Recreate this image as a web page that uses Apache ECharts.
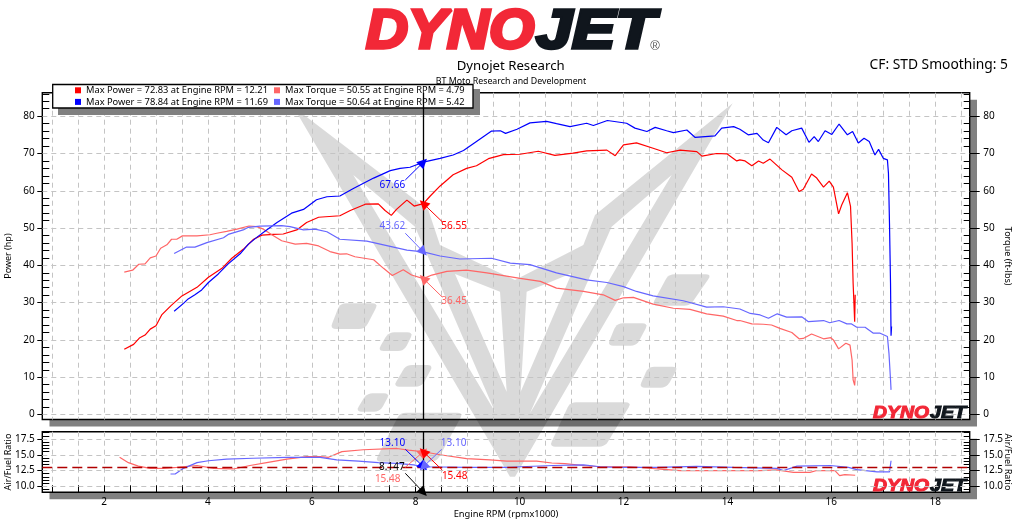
<!DOCTYPE html>
<html><head><meta charset="utf-8">
<style>html,body{margin:0;padding:0;background:#fff}#c{width:1023px;height:531px}</style>
<script src="https://cdn.jsdelivr.net/npm/echarts@6/dist/echarts.min.js"></script>
</head><body><div id="c"></div>
<script>
// ---------- data ----------
const rpmPowerRed=[2.39,2.57,2.68,2.79,2.89,3.00,3.11,3.29,3.50,3.79,4.01,4.27,4.46,4.68,4.88,5.04,5.26,5.45,5.71,5.90,6.13,6.54,6.74,7.03,7.28,7.41,7.53,7.63,7.83,7.97,8.147,8.28,8.47,8.72,8.98,9.17,9.40,9.69,10.01,10.36,10.68,11.03,11.29,11.68,11.84,12.00,12.25,12.57,12.83,13.09,13.41,13.51,13.79,13.99,14.18,14.24,14.34,14.47,14.60,14.69,14.82,15.05,15.24,15.38,15.46,15.62,15.72,15.85,15.96,16.04,16.14,16.20,16.31,16.37,16.40,16.42,16.45,16.46];
const powerRed=[17.5,18.8,20.5,21.3,22.9,23.8,26.7,29.2,31.8,34.1,36.8,39.2,41.9,44.3,47.0,48.1,48.3,48.4,49.5,51.5,52.9,53.3,54.7,56.4,56.5,54.7,53.4,55.0,57.5,55.9,56.55,58.6,61.3,64.3,66.0,66.7,68.6,69.7,69.8,70.6,69.5,70.1,70.7,70.9,69.4,72.3,72.83,71.4,70.2,70.9,70.5,69.3,70.0,69.9,68.0,68.3,68.0,66.7,68.0,67.4,68.5,65.6,63.6,59.8,60.4,64.5,63.4,61.0,62.6,61.0,53.8,56.2,59.5,55.8,45.9,35.2,24.9,32.1];
const rpmPowerBlue=[3.35,3.53,3.62,3.75,3.88,4.01,4.20,4.39,4.62,4.78,4.94,5.13,5.33,5.61,5.84,6.09,6.29,6.54,6.80,7.19,7.51,7.70,7.89,8.147,8.47,8.72,8.92,9.17,9.46,9.63,9.73,9.95,10.20,10.52,10.71,10.97,11.29,11.42,11.69,12.06,12.22,12.45,12.61,12.83,12.96,13.22,13.38,13.76,13.89,14.12,14.24,14.40,14.57,14.69,14.79,14.95,15.13,15.24,15.43,15.57,15.67,15.75,15.88,16.01,16.15,16.31,16.41,16.52,16.63,16.73,16.84,16.91,17.00,17.08,17.10,17.12,17.14,17.15,17.16];
const powerBlue=[27.7,29.8,31.0,32.1,33.4,35.4,37.7,40.4,43.1,45.7,47.5,49.5,51.5,54.0,55.0,57.6,58.4,58.6,60.6,63.4,65.4,66.0,66.3,67.66,68.7,69.6,70.8,73.2,76.0,76.1,75.4,76.5,78.2,78.6,78.0,77.2,78.1,77.5,78.84,78.1,76.8,75.9,77.0,76.1,75.6,76.3,74.3,74.7,76.8,77.2,76.5,75.0,75.4,73.6,72.9,77.0,75.0,76.1,76.8,73.0,74.5,73.2,76.1,75.1,77.9,75.0,75.9,72.8,74.1,73.2,69.6,71.1,68.7,68.3,64.7,51.3,35.2,21.1,23.6];
const rpmTorqueRed=[2.39,2.55,2.67,2.79,2.89,3.00,3.09,3.21,3.30,3.40,3.51,3.79,4.04,4.17,4.36,4.56,4.79,4.94,5.07,5.23,5.42,5.68,5.90,6.13,6.35,6.54,6.67,6.83,7.19,7.38,7.55,7.76,7.92,8.147,8.31,8.60,8.98,9.37,10.01,10.40,10.71,11.23,11.61,11.84,12.00,12.19,12.57,12.96,13.28,13.60,13.92,14.18,14.24,14.47,14.69,14.85,15.01,15.24,15.38,15.46,15.62,15.85,15.99,16.04,16.14,16.28,16.36,16.40,16.42,16.45,16.46];
const torqueRed=[38.2,38.7,40.3,40.4,42.0,42.5,44.6,45.5,47.0,47.0,47.9,47.9,48.2,48.6,49.1,49.7,50.55,50.4,49.7,48.2,46.6,45.7,45.9,45.2,43.7,43.0,43.1,42.3,41.5,39.2,37.3,38.8,37.4,36.45,37.4,38.4,38.7,38.0,36.5,35.7,33.9,33.0,32.1,30.6,31.3,31.4,29.6,28.5,28.2,27.0,26.4,25.2,25.2,24.3,24.2,24.0,23.1,22.0,20.3,20.4,21.6,20.3,20.6,20.0,17.6,19.1,18.6,14.6,9.3,7.8,10.1];
const rpmTorqueBlue=[3.35,3.59,3.75,3.98,4.30,4.39,4.68,4.78,5.00,5.42,5.58,5.84,6.06,6.29,6.54,7.06,7.38,7.83,8.147,8.47,8.85,9.46,9.82,10.20,10.71,11.29,11.68,12.00,12.25,12.57,13.15,13.60,13.92,14.24,14.44,14.63,14.79,14.96,15.14,15.43,15.56,15.85,15.97,16.15,16.30,16.39,16.49,16.65,16.81,16.94,17.08,17.11,17.14,17.15];
const torqueBlue=[43.2,44.9,44.9,46.1,47.4,48.3,49.5,50.2,50.5,50.64,50.4,49.5,49.7,49.0,47.0,46.5,45.5,44.1,43.62,42.5,41.7,41.9,40.6,40.2,38.0,36.1,35.4,34.3,33.0,31.8,30.5,28.8,28.9,28.3,27.1,26.7,25.8,27.0,26.1,26.2,24.9,25.2,24.6,25.2,24.3,24.3,23.4,23.4,21.8,21.8,20.9,16.4,9.3,6.6];
const rpmAfrRed=[2.30,2.47,2.66,2.89,3.14,3.40,3.79,4.11,4.49,4.81,5.13,5.52,5.90,6.16,6.32,6.58,6.99,7.64,7.86,8.147,8.47,8.98,9.43,9.75,10.01,10.33,10.62,10.87,11.23,11.55,12.13,12.45,12.77,13.09,13.99,14.63,14.95,15.27,15.59,15.72,16.07,16.16,16.26,16.46];
const afrRed=[14.6,13.75,13.2,12.85,12.85,13.0,13.3,12.85,12.75,13.3,13.75,14.3,14.7,14.7,14.6,15.5,15.8,16.0,15.75,15.48,15.0,14.4,14.2,14.0,14.0,14.0,13.7,13.6,13.3,13.1,13.1,12.9,12.7,12.5,12.5,12.5,12.6,12.2,12.2,12.5,12.5,11.7,11.85,11.75];
const rpmAfrBlue=[3.28,3.37,3.53,3.79,4.01,4.36,4.87,5.52,6.16,6.48,6.90,7.28,7.64,7.96,8.147,8.98,9.82,10.01,10.65,11.23,11.55,11.87,12.64,12.67,13.41,13.44,14.12,14.95,15.08,15.21,15.34,15.98,16.33,16.49,16.88,17.12,17.15];
const afrBlue=[11.95,11.95,12.85,13.75,14.05,14.3,14.45,14.6,14.6,14.2,14.0,13.75,13.65,13.4,13.1,13.0,13.0,13.1,13.3,13.4,13.1,13.0,13.0,13.2,13.15,13.0,13.0,12.85,12.5,12.85,13.2,13.3,13.0,12.65,12.3,12.3,14.05];
const legendPowerRed='Max Power = 72.83 at Engine RPM = 12.21';
const legendPowerBlue='Max Power = 78.84 at Engine RPM = 11.69';
const legendTorqueRed='Max Torque = 50.55 at Engine RPM = 4.79';
const legendTorqueBlue='Max Torque = 50.64 at Engine RPM = 5.42';
const cursorRpm=8.147;
const afrTarget=13.0;
const rpmLabels=[2,4,6,8,10,12,14,16,18];
const powerLabels=[0,10,20,30,40,50,60,70,80];
const afrLabels=[10,12.5,15,17.5];

// ---------- helpers ----------
const zip=(a,b)=>a.map((v,i)=>[v,b[i]]);
const RED='#ff0000',BLUE='#0000ff',LRED='#ff6666',LBLUE='#6666ff';
const FONT='"Noto Sans"';
const rpmTicks=[];for(let v=1;v<=18.5;v+=0.5)rpmTicks.push(v);
const powerMinor=[];for(let v=2;v<=86;v+=2)if(v%10)powerMinor.push(v);
const afrMinor=[];for(let v=9.5;v<=18.5;v+=0.5)if(v%2.5)afrMinor.push(v);
const MAIN={l:42.3,t:92.7,w:927.4,h:326.8};
const LOW={l:42.3,t:431.7,w:927.4,h:60.6};
const GRID={type:[5,4],color:'#c4c4c4',width:1};
const X_MIN=0.812,X_MAX=18.664;
const mainRange=[-1.34,86.3], lowRange=[9.05,18.66];

function xAxis(gridIndex,low){
  return {type:'value',gridIndex,min:X_MIN,max:X_MAX,splitNumber:9,
    axisLine:{show:false},
    axisTick:{show:low,inside:true,length:7,customValues:rpmTicks,lineStyle:{color:'#000',width:1}},
    axisLabel:{show:low,customValues:rpmLabels,margin:5,fontSize:10,color:'#000',fontFamily:FONT},
    splitLine:{show:true,lineStyle:GRID},
    name:low?'Engine RPM (rpmx1000)':'',nameLocation:'middle',nameGap:18,nameMoveOverlap:false,
    nameTextStyle:{fontSize:9.3,color:'#000',fontFamily:FONT}};
}
function yAxisMajor(gridIndex,pos,range,labels,name,split){
  return {type:'value',gridIndex,position:pos,min:range[0],max:range[1],splitNumber:9,
    axisLine:{show:false},
    axisTick:{show:true,length:pos==='left'?5:10,customValues:labels,lineStyle:{color:'#000',width:1}},
    axisLabel:{show:true,customValues:labels,margin:pos==='left'?7.5:13.5,fontSize:10,color:'#000',fontFamily:FONT,
      formatter:v=>labels===afrLabels?v.toFixed(1):String(v)},
    splitLine:{show:split,lineStyle:GRID},
    name,nameLocation:'middle',nameGap:pos==='left'?29:33,nameRotate:pos==='left'?90:-90,nameMoveOverlap:false,
    nameTextStyle:{fontSize:9,color:'#000',fontFamily:FONT}};
}
function yAxisMinor(gridIndex,pos,range,ticks){
  return {type:'value',gridIndex,position:pos,min:range[0],max:range[1],splitNumber:9,
    axisLine:{show:false},
    axisTick:{show:true,inside:true,length:pos==='left'?7:6,customValues:ticks,lineStyle:{color:'#000',width:1}},
    axisLabel:{show:false},splitLine:{show:false}};
}
function lineSeries(name,xi,yi,data,color,extra){
  return Object.assign({type:'line',name,xAxisIndex:xi,yAxisIndex:yi,data,showSymbol:false,symbol:'none',
    lineStyle:{color,width:1.2},itemStyle:{color},z:2,silent:true},extra||{});
}
function arrow(from,to,color){
  return [{coord:from,lineStyle:{color,width:1,type:'solid'},symbol:'none'},{coord:to,symbol:'triangle',symbolSize:10}];
}
function plain(a,b,style){
  return [{coord:a,lineStyle:style,symbol:'none'},{coord:b,symbol:'none'}];
}
function tag(coord,text,color){
  return {coord,value:text,symbol:'circle',symbolSize:0,itemStyle:{color:'transparent'},
    label:{show:true,position:'inside',formatter:text,color,fontSize:10,fontFamily:FONT}};
}
function annots(lines,tags){
  return {
    markLine:{silent:true,symbol:['none','none'],animation:false,label:{show:false},data:lines},
    markPoint:{silent:true,animation:false,data:tags}
  };
}
const CUR={color:'#000',width:1.3,type:'solid'};
const afrGrid=afrLabels.map(v=>plain([X_MIN,v],[X_MAX,v],GRID));
const series=[
  lineSeries(legendPowerRed,0,0,zip(rpmPowerRed,powerRed),RED,annots(
    [plain([cursorRpm,mainRange[0]],[cursorRpm,mainRange[1]],CUR),arrow([8.51,51.7],[cursorRpm,56.55],RED)],[tag([8.74,50.6],'56.55',RED)])),
  lineSeries(legendTorqueRed,0,1,zip(rpmTorqueRed,torqueRed),LRED,annots(
    [arrow([8.51,31.5],[cursorRpm,36.45],LRED)],[tag([8.74,30.5],'36.45',LRED)])),
  lineSeries(legendPowerBlue,0,0,zip(rpmPowerBlue,powerBlue),BLUE,annots(
    [arrow([7.80,62.9],[cursorRpm,67.66],BLUE)],[tag([7.55,61.4],'67.66',BLUE)])),
  lineSeries(legendTorqueBlue,0,1,zip(rpmTorqueBlue,torqueBlue),LBLUE,annots(
    [arrow([7.80,48.6],[cursorRpm,43.62],LBLUE)],[tag([7.55,50.6],'43.62',LBLUE)])),
  lineSeries('Air/Fuel Ratio 1',1,4,zip(rpmAfrRed,afrRed),LRED,annots(
    afrGrid.concat([plain([X_MIN,afrTarget],[X_MAX,afrTarget],{color:'#b00000',width:1.4,type:[10,5]}),
      plain([cursorRpm,lowRange[0]],[cursorRpm,lowRange[1]],CUR),
      arrow([7.80,13.02],[cursorRpm,15.48],LRED),arrow([8.51,12.59],[cursorRpm,15.48],RED)]),
    [tag([7.46,11.16],'15.48',LRED),tag([8.75,11.68],'15.48',RED),tag([7.54,13.02],'8.147','#000')])),
  lineSeries('Air/Fuel Ratio 2',1,4,zip(rpmAfrBlue,afrBlue),LBLUE,annots(
    [arrow([7.80,15.87],[cursorRpm,13.1],BLUE),arrow([8.50,15.87],[cursorRpm,13.1],LBLUE),arrow([7.80,12.06],[cursorRpm,9.05],'#000')],
    [tag([7.55,16.92],'13.10',BLUE),tag([8.73,16.92],'13.10',LBLUE)]))
];

// ---------- watermark and decoration ----------
const wm=(x,y)=>[280+x/3,95+y/3];
const WM='rgba(0,0,0,0.145)';
function rounded(pts,r){
  const out=[];
  pts.forEach((p,i)=>{
    const a=pts[(i+pts.length-1)%pts.length],b=pts[(i+1)%pts.length];
    const la=Math.hypot(a[0]-p[0],a[1]-p[1]),lb=Math.hypot(b[0]-p[0],b[1]-p[1]);
    const ra=Math.min(r,la/2),rb=Math.min(r,lb/2);
    const s=[p[0]+(a[0]-p[0])*ra/la,p[1]+(a[1]-p[1])*ra/la],e=[p[0]+(b[0]-p[0])*rb/lb,p[1]+(b[1]-p[1])*rb/lb];
    for(let t=0;t<=1.001;t+=0.2){
      const u=1-t;
      out.push([u*u*s[0]+2*u*t*p[0]+t*t*e[0],u*u*s[1]+2*u*t*p[1]+t*t*e[1]]);
    }
  });
  return out;
}
const bigShape=[[40,35],[445,345],[405,395],[220,240],[645,950],[405,395],[445,345],
  [480,450],[525,537],[680,890],[660,590],[525,537],[480,450],
  [705,555],[910,450],[875,535],[740,590],[722,890],[875,535],[910,450],
  [945,360],[995,395],[750,955],[1175,240],[995,395],[945,360],
  [1358,25],[705,1145],[690,1145]].map(p=>wm(p[0],p[1]));
const blocks=[
  [[180,625],[295,625],[255,702],[150,702]],
  [[325,712],[400,712],[372,768],[293,768]],
  [[378,810],[460,810],[425,875],[340,875]],
  [[260,895],[330,895],[300,950],[227,950]],
  [[360,953],[550,953],[470,1100],[285,1100]],
  [[870,922],[1055,922],[975,1055],[808,1055]],
  [[1010,685],[1105,685],[1070,752],[982,752]],
  [[1105,815],[1195,815],[1160,878],[1077,878]],
  [[1165,538],[1295,538],[1230,632],[1115,632]]
].map(b=>rounded(b.map(p=>wm(p[0],p[1])),6));

function rect(x,y,w,h,fill,z,extra){
  return Object.assign({type:'rect',shape:{x,y,width:w,height:h},style:{fill},z,silent:true},extra||{});
}
function txt(x,y,text,font,fill,align,z){
  return {type:'text',x,y,z,silent:true,style:{text,font,fill,textAlign:align||'left',textVerticalAlign:'middle'}};
}
function logoPart(x,y,text,fs,color,sx,z){
  return {type:'text',x,y,z,silent:true,scaleX:sx,originX:0,originY:0,
    style:{text,font:'italic 900 '+fs+'px "Liberation Sans"',fill:color,stroke:color,lineWidth:fs/16,textAlign:'left',textVerticalAlign:'middle'}};
}
function logo(x,yMid,fs,sx1,sx2,split,z){
  return [logoPart(x,yMid,'DYNO',fs,'#f22837',sx1,z),logoPart(x+split,yMid,'JET',fs,'#10161d',sx2,z)];
}
const graphicEls=[
  rect(49.5,99.7,927.5,326.8,'#808080',-3),
  rect(49.5,438.7,927.5,60.6,'#808080',-3),
  rect(MAIN.l,MAIN.t,MAIN.w,MAIN.h,'#fff',-2),
  rect(LOW.l,LOW.t,LOW.w,LOW.h,'#fff',-2),
  {type:'polygon',shape:{points:bigShape},style:{fill:WM},z:-1,silent:true},
  ...blocks.map(b=>({type:'polygon',shape:{points:b},style:{fill:WM},z:-1,silent:true})),
  rect(58,89,422,26,'#808080',1),
  rect(52.7,84.5,420.3,23.5,'#fff',3,{style:{fill:'#fff',stroke:'#000',lineWidth:1.3}}),
  ...logo(366,33,55,1.06,1.18,170,1),
  txt(655,46.5,'®','13px "Liberation Sans"','#555','center',1),
  txt(510.7,66,'Dynojet Research','13.2px '+FONT,'#000','center',1),
  txt(511,81,'BT Moto Research and Development','8.8px '+FONT,'#000','center',1),
  txt(1008,65,'CF: STD Smoothing: 5','13.8px '+FONT,'#000','right',1),
  ...logo(873,413,17,1.14,1.16,57,1),
  ...logo(873,486.5,17,1.14,1.16,57,1)
];
const LEG={fontSize:9.3,lineHeight:11.6,color:'#000',fontFamily:FONT};
const option={
  animation:false,
  backgroundColor:'#fff',
  textStyle:{fontFamily:FONT},
  grid:[
    {left:MAIN.l,top:MAIN.t,width:MAIN.w,height:MAIN.h,show:true,borderColor:'#000',borderWidth:1.4,backgroundColor:'transparent',containLabel:false,outerBoundsMode:'none'},
    {left:LOW.l,top:LOW.t,width:LOW.w,height:LOW.h,show:true,borderColor:'#000',borderWidth:1.4,backgroundColor:'transparent',containLabel:false,outerBoundsMode:'none'}
  ],
  xAxis:[xAxis(0,false),xAxis(1,true)],
  yAxis:[
    yAxisMajor(0,'left',mainRange,powerLabels,'Power (hp)',true),
    yAxisMajor(0,'right',mainRange,powerLabels,'Torque (ft-lbs)',false),
    yAxisMinor(0,'left',mainRange,powerMinor),
    yAxisMinor(0,'right',mainRange,powerMinor),
    yAxisMajor(1,'left',lowRange,afrLabels,'Air/Fuel Ratio',false),
    yAxisMajor(1,'right',lowRange,afrLabels,'Air/Fuel Ratio',false),
    yAxisMinor(1,'left',lowRange,afrMinor),
    yAxisMinor(1,'right',lowRange,afrMinor)
  ],
  legend:[
    {data:[legendPowerRed,legendPowerBlue],orient:'vertical',left:75,top:84.5,itemWidth:6,itemHeight:6,itemGap:0,padding:0,icon:'rect',z:6,textStyle:LEG,selectedMode:false},
    {data:[legendTorqueRed,legendTorqueBlue],orient:'vertical',left:274,top:84.5,itemWidth:6,itemHeight:6,itemGap:0,padding:0,icon:'rect',z:6,textStyle:LEG,selectedMode:false}
  ],
  graphic:{elements:graphicEls},
  series
};
const chart=echarts.init(document.getElementById('c'),null,{renderer:'canvas'});
chart.setOption(option);
</script></body></html>
